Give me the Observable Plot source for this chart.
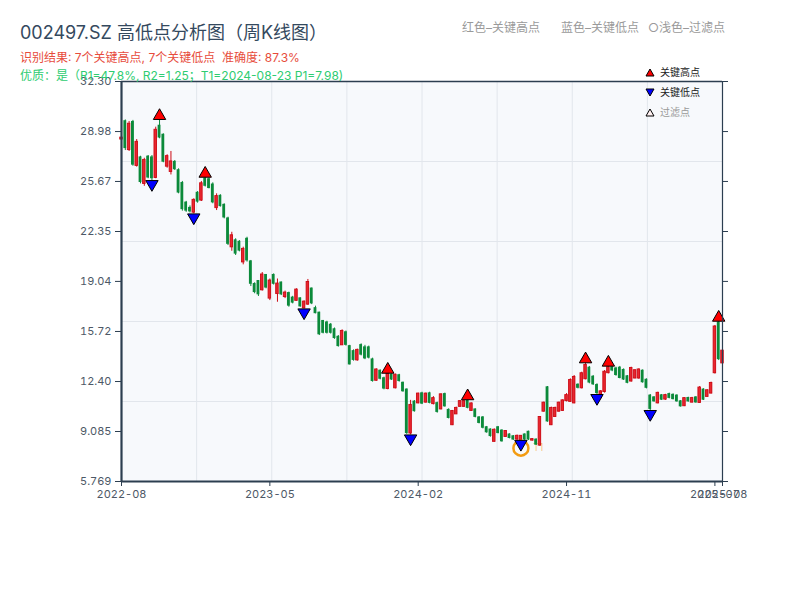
<!DOCTYPE html>
<html><head><meta charset="utf-8">
<script src="https://cdn.jsdelivr.net/npm/d3@7"></script>
<script src="https://cdn.jsdelivr.net/npm/@observablehq/plot@0.6"></script>
<style>
body{margin:0;background:#fff;font-family:Inter,"Noto Sans CJK SC","Noto Sans",sans-serif;}
#wrap{position:relative;width:800px;height:600px;overflow:hidden;}
#chart{position:absolute;left:0;top:0;}
.t{position:absolute;white-space:pre;line-height:1;}
.lg{position:absolute;font-size:10px;line-height:1;white-space:pre;display:flex;align-items:center;}
.lg svg{margin-right:5px;}
</style></head><body>
<div id="wrap">
<div id="chart"></div>
<div class="t" style="left:20px;top:24px;font-size:18px;color:#34495e">002497.SZ 高低点分析图（周K线图）</div>
<div class="t" style="left:20px;top:52px;font-size:12px;color:#e74c3c">识别结果: 7个关键高点, 7个关键低点  准确度: 87.3%</div>
<div class="t" style="left:20px;top:70px;font-size:12px;color:#2ecc71">优质：是（R1=47.8%, R2=1.25；T1=2024-08-23 P1=7.98)</div>
<div class="t" style="left:462px;top:22px;font-size:12px;color:#9a9a9a">红色–关键高点</div>
<div class="t" style="left:561px;top:22px;font-size:12px;color:#9a9a9a">蓝色–关键低点</div>
<div class="t" style="left:648px;top:22px;font-size:12px;color:#9a9a9a">○浅色–过滤点</div>
<div class="lg" style="left:645px;top:67px;color:#222"><svg width="10" height="9"><polygon points="5,1 9,8 1,8" fill="#ff0000" stroke="#000" stroke-width="1"/></svg>关键高点</div>
<div class="lg" style="left:645px;top:87px;color:#222"><svg width="10" height="9"><polygon points="1,1 9,1 5,8" fill="#0000ff" stroke="#000" stroke-width="1"/></svg>关键低点</div>
<div class="lg" style="left:645px;top:107px;color:#999"><svg width="10" height="9"><polygon points="5,1 9,8 1,8" fill="#fff0f0" stroke="#000" stroke-width="1"/></svg>过滤点</div>
</div>
<script>
const open = [28.45,29.7,27.75,29.65,26.7,27.3,25.5,27.35,27.3,25.9,29.4,28.8,26.65,26.3,27.0,26.45,25.6,24.3,23.95,23.6,
24.95,24.4,25.9,25.85,25.5,23.9,24.75,24.15,23.25,21.3,21.8,21.7,20.3,21.9,20.4,18.9,19.1,18.45,19.5,17.9,
19.5,18.2,19.0,18.0,18.3,18.0,17.75,17.95,17.25,17.5,18.6,17.3,17.0,16.45,16.35,16.2,15.9,15.4,14.8,15.7,
14.78,14.45,13.8,14.85,14.7,14.7,13.9,12.45,13.15,12.65,11.9,12.88,11.95,12.85,12.35,11.9,8.95,11.1,10.95,11.65,
11.0,11.65,10.9,11.0,10.55,11.6,10.55,9.5,10.22,10.72,10.72,11.15,10.45,10.58,10.05,10.05,9.4,9.25,8.4,9.4,
9.18,8.72,8.92,8.8,8.55,8.52,8.92,9.1,8.48,8.58,8.15,10.4,12.05,9.5,10.05,10.4,10.45,11.1,11.05,10.95,
12.22,11.95,12.55,13.35,12.75,12.2,11.3,11.7,12.95,13.38,13.3,13.35,13.2,12.78,12.4,12.6,12.6,13.15,12.55,11.5,
11.38,10.95,11.52,11.2,11.6,11.55,11.5,11.12,10.76,11.34,11.0,11.38,10.98,11.9,11.38,11.6,12.95,16.35,13.6];
const close = [28.58,27.85,29.5,26.75,28.3,25.6,27.1,25.9,25.85,29.1,28.55,26.95,27.35,27.0,26.45,24.9,23.8,23.7,23.65,24.45,
24.3,25.55,25.35,25.2,24.25,24.7,24.0,23.25,21.5,22.1,20.85,21.05,21.2,20.4,18.85,18.3,18.15,19.5,18.6,19.1,
18.85,18.9,18.15,18.3,17.4,17.6,18.5,17.35,17.7,19.0,17.55,16.9,15.5,15.6,15.6,15.6,15.25,14.72,15.75,14.8,
13.5,13.8,14.5,14.15,13.9,13.95,12.4,13.2,12.55,11.9,12.9,12.5,12.85,12.4,11.72,8.95,10.85,10.4,11.6,10.9,
11.6,10.95,11.3,10.35,11.55,10.72,9.95,10.45,10.65,11.1,11.1,10.62,10.95,10.02,9.62,9.3,9.0,8.75,9.2,8.95,
8.4,9.12,8.62,8.52,8.8,8.8,8.52,8.52,8.58,8.18,10.05,11.0,9.72,10.65,10.65,11.0,11.15,11.5,12.5,12.7,
11.95,12.95,13.5,12.3,12.18,11.6,11.75,13.05,13.35,13.1,12.8,12.6,12.5,12.28,13.3,13.15,13.2,12.32,11.95,10.55,
11.05,11.65,11.16,11.5,11.28,11.2,11.05,10.72,11.3,11.05,11.3,10.98,12.0,11.16,11.82,12.3,16.05,13.85,14.45];
const high = [28.62,29.75,29.65,29.72,28.45,27.34,27.21,27.39,27.39,29.27,29.78,28.83,27.44,27.66,27.06,26.51,25.67,24.35,24.05,24.52,
25.0,25.67,25.95,25.9,25.58,24.85,24.79,24.19,23.3,22.3,21.87,21.75,21.31,21.97,20.43,18.95,19.1,19.63,19.5,19.2,
19.54,19.2,19.0,18.4,18.33,18.05,18.55,17.95,17.75,19.17,18.6,17.4,17.0,16.45,16.4,16.25,15.95,15.45,15.83,15.75,
14.8,14.5,14.55,14.9,14.8,14.75,13.95,13.24,13.17,12.69,12.95,12.9,12.9,12.88,12.36,11.91,11.15,11.14,11.63,11.69,
11.63,11.69,11.4,11.03,11.58,11.63,10.59,10.48,10.7,11.14,11.12,11.19,10.97,10.59,10.08,10.08,9.42,9.26,9.26,9.42,
9.2,9.15,8.93,8.82,8.85,8.82,8.93,9.11,8.62,8.6,10.08,11.03,12.07,10.7,10.7,11.03,11.19,11.6,12.58,12.8,
12.25,13.02,13.64,13.4,12.8,12.25,11.8,13.13,13.42,13.4,13.35,13.4,13.24,12.8,13.35,13.17,13.24,13.17,12.58,11.54,
11.4,11.69,11.54,11.55,11.63,11.58,11.52,11.14,11.32,11.36,11.35,11.4,12.07,11.92,11.85,12.36,16.12,16.4,14.5];
const low = [28.42,27.72,27.66,26.68,26.62,25.51,25.35,25.85,25.73,25.85,28.5,26.91,26.55,26.1,26.4,24.85,23.7,23.62,23.58,23.52,
24.23,24.34,25.3,25.18,24.19,23.74,23.97,23.19,21.42,21.04,20.76,21.0,20.14,20.32,18.7,18.22,18.04,18.4,18.55,17.77,
18.8,17.66,18.1,17.9,17.33,17.55,17.73,17.33,17.22,17.45,17.5,16.89,15.45,15.56,15.55,15.55,15.2,14.68,14.79,14.75,
13.5,13.75,13.75,14.1,13.85,13.9,12.36,12.42,12.51,11.85,11.85,12.47,11.91,12.36,11.69,8.89,8.86,10.37,10.92,10.87,
10.97,10.92,10.85,10.3,10.52,10.7,9.92,9.48,10.21,10.7,10.7,10.59,10.43,9.99,9.59,9.26,8.97,8.71,8.38,8.93,
8.38,8.71,8.6,8.49,8.5,8.5,8.49,8.49,8.45,8.16,8.1,10.37,9.7,9.48,10.04,10.37,10.43,11.05,11.03,10.92,
11.91,11.91,12.51,12.25,12.14,11.54,11.25,11.63,12.91,13.05,12.75,12.58,12.47,12.25,12.36,12.58,12.55,12.29,11.91,10.48,
11.03,10.92,11.14,11.15,11.25,11.18,11.03,10.7,10.74,11.03,10.98,10.96,10.96,11.14,11.36,11.58,12.9,13.79,13.57];

const highIdx = [10, 22, 70, 91, 122, 128, 157];
const highPrice = [29.78, 25.95, 12.95, 11.19, 13.64, 13.42, 16.4];
const lowIdx = [8, 19, 48, 76, 105, 125, 139];
const lowPrice = [25.73, 23.52, 17.22, 8.86, 8.5, 11.54, 10.48];
const t1Idx = [105];
const t1Price = [7.98];
const t1Label = ["T1"];

const xTickIdx = [0, 39, 78, 117, 156, 158];
const xTickLabels = ["2022-08", "2023-05", "2024-02", "2024-11", "2025-07", "2025-08"];
const yTicks = [5.769, 9.085, 12.40, 15.72, 19.04, 22.35, 25.67, 28.98, 32.30];
const yTickLabels = ["5.769", "9.085", "12.40", "15.72", "19.04", "22.35", "25.67", "28.98", "32.30"];

const data = open.map((o, i) => ({i, open: o, close: close[i], high: high[i], low: low[i], up: close[i] >= o}));
const highs = highIdx.map((d, k) => ({i: d, p: highPrice[k]}));
const lows = lowIdx.map((d, k) => ({i: d, p: lowPrice[k]}));
const t1 = t1Idx.map((d, k) => ({i: d, p: t1Price[k], label: t1Label[k]}));

const xDomain = [0, data.length - 1];
const yDomain = [yTicks[0], yTicks[yTicks.length - 1]];
const gridX = d3.range(1, 8).map(k => xDomain[0] + k * (xDomain[1] - xDomain[0]) / 8);
const gridY = d3.range(1, 5).map(k => yDomain[0] + k * (yDomain[1] - yDomain[0]) / 5);

const RED = "#cc0a14", REDFILL = "#e8262e", GREEN = "#0b8a3a", AXIS = "#2c3e50";
const triangleDown = {
  draw(context, size) {
    const y = Math.sqrt(size / (Math.sqrt(3) * 3));
    context.moveTo(0, 2 * y);
    context.lineTo(-Math.sqrt(3) * y, -y);
    context.lineTo(Math.sqrt(3) * y, -y);
    context.closePath();
  }
};

const chart = Plot.plot({
  width: 800, height: 600,
  marginLeft: 121, marginRight: 78, marginTop: 81, marginBottom: 119,
  style: {fontFamily: "Inter, 'Noto Sans CJK SC', sans-serif", background: "transparent"},
  x: {domain: xDomain},
  y: {domain: yDomain},
  marks: [
    Plot.frame({fill: "#f7f9fc", stroke: null}),
    Plot.ruleX(gridX, {stroke: "#e2e6ec", strokeWidth: 1}),
    Plot.ruleY(gridY, {stroke: "#e2e6ec", strokeWidth: 1}),
    Plot.text(t1, {x: "i", y: "p", text: "label", dx: 12, textAnchor: "start", fill: "#f39c12", fillOpacity: 0.55, fontSize: 10}),
    Plot.ruleX(data, {x: "i", y1: "low", y2: "high", stroke: d => d.up ? RED : GREEN, strokeWidth: 1}),
    Plot.rect(data.filter(d => !d.up), {x1: d => d.i - 0.37, x2: d => d.i + 0.37, y1: "open", y2: "close", fill: GREEN}),
    Plot.rect(data.filter(d => d.up), {x1: d => d.i - 0.33, x2: d => d.i + 0.33, y1: "open", y2: "close", fill: REDFILL, stroke: RED, strokeWidth: 0.9}),
    Plot.dot(t1, {x: "i", y: "p", r: 7.5, stroke: "#f39c12", strokeWidth: 2.5, fill: "none"}),
    Plot.dot(highs, {x: "i", y: "p", symbol: "triangle", r: 4.6, dy: -3.6, fill: "#ff0000", stroke: "#000", strokeWidth: 1}),
    Plot.dot(lows, {x: "i", y: "p", symbol: triangleDown, r: 4.6, dy: 3.6, fill: "#0000ff", stroke: "#000", strokeWidth: 1}),
    Plot.axisY({anchor: "left", ticks: yTicks, tickFormat: d => yTickLabels[yTicks.indexOf(d)], tickSize: 6, tickPadding: 4, stroke: AXIS, fill: "#4d5866", fontSize: 11, label: null}),
    Plot.axisY({anchor: "right", ticks: yTicks, tickFormat: () => "", tickSize: 5, stroke: AXIS, label: null}),
    Plot.axisX({anchor: "bottom", ticks: xTickIdx, tickFormat: d => xTickLabels[xTickIdx.indexOf(d)], tickSize: 5, tickPadding: 4, stroke: AXIS, fill: "#4d5866", fontSize: 11, label: null}),
    Plot.ruleX([xDomain[0]], {stroke: AXIS, strokeWidth: 2.2}),
    Plot.ruleY([yDomain[0]], {stroke: AXIS, strokeWidth: 2.2}),
    Plot.ruleX([xDomain[1]], {stroke: AXIS, strokeWidth: 1.2}),
    Plot.ruleY([yDomain[1]], {stroke: AXIS, strokeWidth: 1.4})
  ]
});
document.getElementById("chart").appendChild(chart);
</script>
</body></html>
